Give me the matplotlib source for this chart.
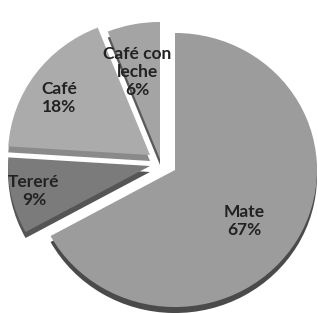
import matplotlib
matplotlib.use("Agg")
import matplotlib.pyplot as plt

# Data
categories = ["Mate", "Tereré", "Café", "Café con\nleche"]
shares = [67, 9, 18, 6]

# Styles
top_colors = ["#9c9c9c", "#7b7b7b", "#ababab", "#a4a4a4"]
side_colors = ["#4a4a4a", "#555555", "#8a8a8a", "#5a5a5a"]
# slice apex positions (pixel coords, y downward) and radius
apex_px = [(175, 170), (150, 166), (150, 155), (160, 159)]
radius = 142
squish = 0.965
depth = 6
label_px = [(244, 221), (34, 191), (59, 98), (137, 72)]

W, H = 318, 313
fig = plt.figure(figsize=(W / 100, H / 100), dpi=100)
ax = fig.add_axes([0, 0, 1, 1])


def ydata(ypx):
    return (H - ypx) / squish


start = 90.0
total = float(sum(shares))
for i, (cat, val) in enumerate(zip(categories, shares)):
    frac = val / total
    cx, cy = apex_px[i][0], ydata(apex_px[i][1])
    # side / depth
    ax.pie([frac], normalize=False, startangle=start, counterclock=False,
           center=(cx, cy - depth / squish), radius=radius,
           colors=[side_colors[i]], wedgeprops=dict(linewidth=0, zorder=1))
    # top face
    ax.pie([frac], normalize=False, startangle=start, counterclock=False,
           center=(cx, cy), radius=radius, colors=[top_colors[i]],
           wedgeprops=dict(linewidth=0, zorder=2))
    start -= frac * 360.0

for cat, val, (lx, ly) in zip(categories, shares, label_px):
    ax.text(lx, ydata(ly), f"{cat}\n{val}%", ha="center", va="center",
            fontsize=12.5, fontweight="bold", family="Lato",
            color="#222222", linespacing=1.15, zorder=5)

ax.set_xlim(0, W)
ax.set_ylim(0, H / squish)
ax.set_aspect("auto")
ax.axis("off")
fig.savefig("out.png", dpi=100, facecolor="white")
